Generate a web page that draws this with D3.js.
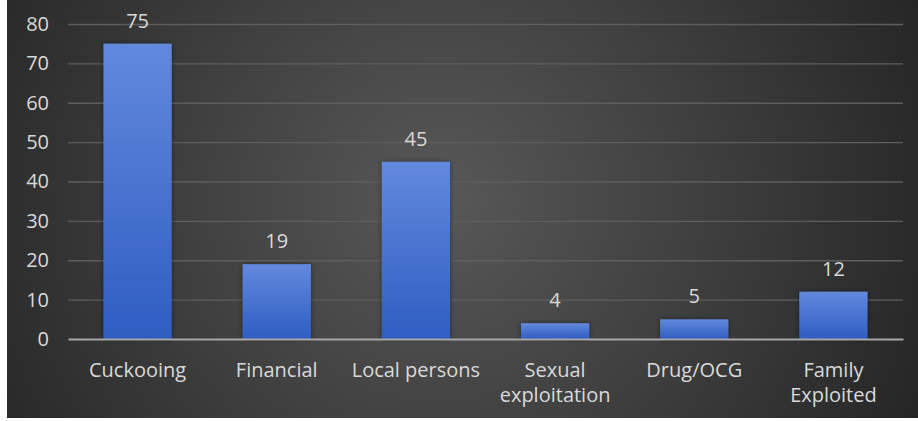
<!DOCTYPE html>
<html>
<head>
<meta charset="utf-8">
<script src="https://cdn.jsdelivr.net/npm/d3@7"></script>
<style>
  html, body { margin: 0; padding: 0; background: #ffffff; }
  svg { display: block; }
</style>
</head>
<body>
<svg id="chart" width="918" height="421"></svg>
<script>
const categories = ["Cuckooing", "Financial", "Local persons", "Sexual exploitation", "Drug/OCG", "Family Exploited"];
const categoryLines = [["Cuckooing"], ["Financial"], ["Local persons"], ["Sexual", "exploitation"], ["Drug/OCG"], ["Family", "Exploited"]];
const values = [75, 19, 45, 4, 5, 12];
const yTicks = [0, 10, 20, 30, 40, 50, 60, 70, 80];

(function () {
const svg = d3.select("#chart");
const W = 918, H = 421;
const mLeft = 68, mRight = 903, mTop = 24, mBottom = 339;
const font = "'Open Sans', 'Noto Sans', sans-serif";
const fs = "20px";

const defs = svg.append("defs");
const bg = defs.append("radialGradient").attr("id", "bg")
  .attr("gradientUnits", "userSpaceOnUse")
  .attr("cx", 440).attr("cy", 200).attr("r", 520);
bg.append("stop").attr("offset", "0%").attr("stop-color", "#585858");
bg.append("stop").attr("offset", "100%").attr("stop-color", "#262626");

const barGrad = defs.append("linearGradient").attr("id", "barGrad")
  .attr("x1", 0).attr("y1", 0).attr("x2", 0).attr("y2", 1);
barGrad.append("stop").attr("offset", "0%").attr("stop-color", "#6289dd");
barGrad.append("stop").attr("offset", "100%").attr("stop-color", "#2f5dc2");

const shadow = defs.append("filter").attr("id", "shadow")
  .attr("x", "-20%").attr("y", "-20%").attr("width", "140%").attr("height", "140%");
shadow.append("feDropShadow").attr("dx", 0).attr("dy", 0).attr("stdDeviation", 2.5)
  .attr("flood-color", "#000").attr("flood-opacity", 0.45);

svg.append("rect").attr("x", 7).attr("y", 0).attr("width", W - 7).attr("height", 418)
  .attr("fill", "url(#bg)");

const x = d3.scaleBand().domain(categories).range([mLeft, mRight])
  .paddingInner(0.51).paddingOuter(0.255);
const y = d3.scaleLinear().domain([0, 80]).range([mBottom, mTop]);

// gridlines
const grid = svg.append("g").attr("class", "grid")
  .attr("transform", `translate(${mLeft},0)`)
  .call(d3.axisLeft(y).tickValues(yTicks.filter(d => d > 0)).tickSize(-(mRight - mLeft)).tickFormat(""));
grid.select(".domain").remove();
grid.selectAll("line").attr("stroke", "#5e5e5e").attr("stroke-width", 1.3);

// y axis labels
const yAxis = svg.append("g")
  .attr("transform", `translate(${mLeft},0)`)
  .call(d3.axisLeft(y).tickValues(yTicks).tickSize(0).tickPadding(19));
yAxis.select(".domain").remove();
yAxis.selectAll("text").attr("fill", "#d9d9d9").style("font-family", font).style("font-size", fs);

// bars
svg.append("g").selectAll("rect").data(values).join("rect")
  .attr("x", (d, i) => x(categories[i]))
  .attr("y", d => y(d))
  .attr("width", x.bandwidth())
  .attr("height", d => y(0) - y(d))
  .attr("fill", "url(#barGrad)")
  .attr("filter", "url(#shadow)");

// baseline
const xAxis = svg.append("g").attr("transform", `translate(0,${mBottom})`)
  .call(d3.axisBottom(x).tickSize(0).tickFormat(""));
xAxis.select(".domain").attr("stroke", "#a6a6a6").attr("stroke-width", 2);

// value labels
svg.append("g").selectAll("text").data(values).join("text")
  .attr("x", (d, i) => x(categories[i]) + x.bandwidth() / 2)
  .attr("y", d => y(d) - 16)
  .attr("text-anchor", "middle")
  .attr("fill", "#d9d9d9")
  .style("font-family", font).style("font-size", fs)
  .text(d => d);

// category labels
const cl = svg.append("g").selectAll("text").data(categories).join("text")
  .attr("x", d => x(d) + x.bandwidth() / 2)
  .attr("y", 377)
  .attr("text-anchor", "middle")
  .attr("fill", "#d9d9d9")
  .style("font-family", font).style("font-size", fs);
cl.each(function(d, i) {
  const t = d3.select(this);
  categoryLines[i].forEach((line, j) => {
    t.append("tspan").attr("x", x(d) + x.bandwidth() / 2)
      .attr("dy", j === 0 ? 0 : 25).text(line);
  });
});
})();
</script>
</body>
</html>
